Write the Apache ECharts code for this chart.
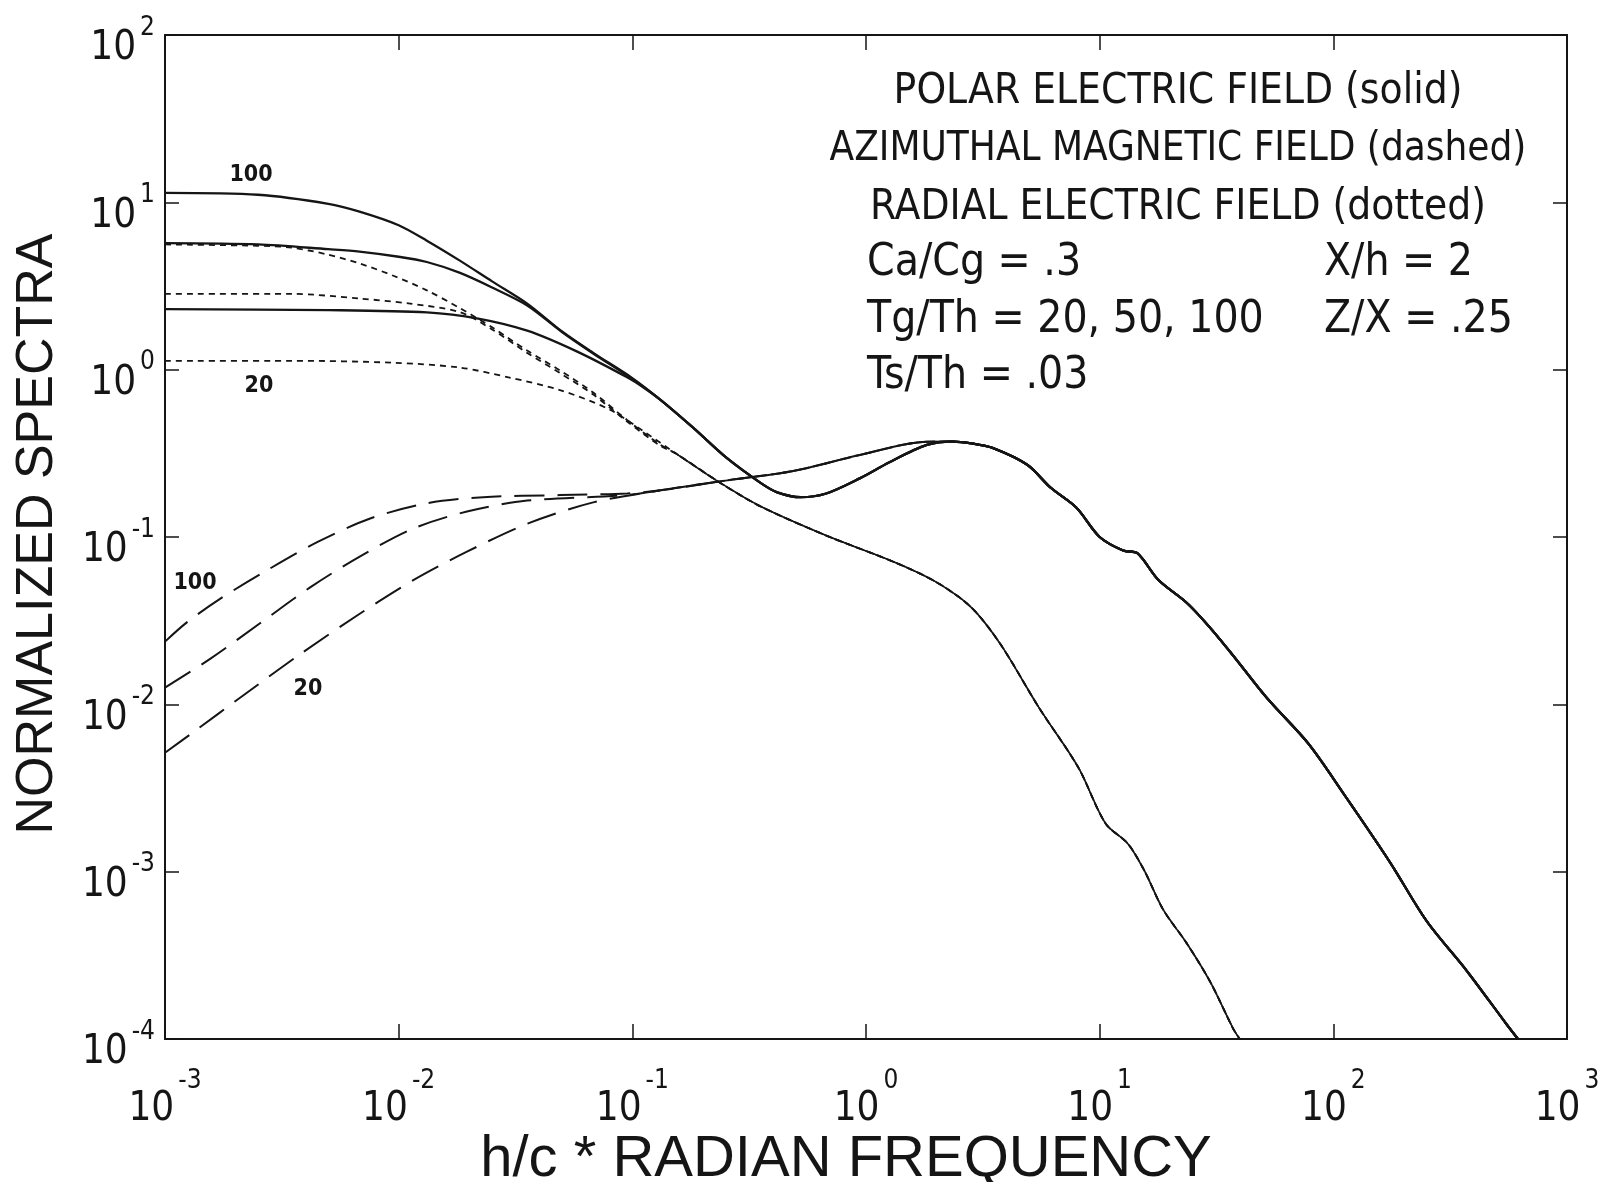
<!DOCTYPE html>
<html>
<head>
<meta charset="utf-8">
<title>Normalized spectra</title>
<script src="https://cdn.jsdelivr.net/npm/echarts@6/dist/echarts.min.js"></script>
<style>
  html, body { margin: 0; padding: 0; background: #fff; }
  #chart { width: 1609px; height: 1182px; }
</style>
</head>
<body>
<div id="chart"></div>
<script>
// [frequency (h/c * rad freq), normalized spectrum]
const solid100Head = [[0.001, 11.4], [0.0025, 11.1], [0.005, 9.8], [0.0068, 8.8], [0.01, 7.3], [0.0132, 5.9], [0.0182, 4.5], [0.0251, 3.37], [0.0355, 2.48], [0.05, 1.69], [0.068, 1.26], [0.1, 0.89]];
const solid50Head = [[0.001, 5.7], [0.0025, 5.6], [0.005, 5.25], [0.0068, 5.08], [0.01, 4.73], [0.0132, 4.4], [0.0182, 3.8], [0.0251, 3.1], [0.0355, 2.42], [0.05, 1.68], [0.068, 1.25], [0.1, 0.88]];
const solid20Head = [[0.001, 2.3], [0.005, 2.27], [0.0132, 2.2], [0.0219, 2.02], [0.0355, 1.71], [0.0575, 1.29], [0.095, 0.9], [0.112, 0.78]];
const solidTail = [[0.132, 0.66], [0.182, 0.45], [0.251, 0.3], [0.355, 0.21], [0.417, 0.185], [0.525, 0.173], [0.676, 0.182], [0.94, 0.224], [1.26, 0.28], [1.82, 0.355], [2.34, 0.372], [2.82, 0.363], [3.5, 0.34], [4.9, 0.27], [6.17, 0.197], [7.94, 0.15], [10, 0.1], [12.6, 0.083], [14.5, 0.08], [17.8, 0.0555], [23.5, 0.0406], [29, 0.0298], [37, 0.0198], [52, 0.0109], [78, 0.00585], [110, 0.00296], [174, 0.00115], [251, 0.000506], [372, 0.000256], [550, 0.000123], [617, 0.0001]];

const dashed100Head = [[0.001, 0.0237], [0.00124, 0.0309], [0.00172, 0.0427], [0.00274, 0.0634], [0.00448, 0.0931], [0.00755, 0.129], [0.0132, 0.159], [0.023, 0.173], [0.049, 0.178], [0.095, 0.182]];
const dashed50Head = [[0.001, 0.0126], [0.00156, 0.0187], [0.00255, 0.0305], [0.00418, 0.05], [0.00684, 0.0766], [0.0115, 0.112], [0.0196, 0.142], [0.0355, 0.165], [0.095, 0.178]];
const dashed20Head = [[0.001, 0.00514], [0.00132, 0.00681], [0.00216, 0.0113], [0.00378, 0.0199], [0.00684, 0.0349], [0.0115, 0.055], [0.0196, 0.0817], [0.0355, 0.12], [0.068, 0.161]];
const dashedTail = [[0.132, 0.19], [0.255, 0.218], [0.488, 0.248], [0.94, 0.309], [1.82, 0.371], [2.34, 0.372]];

const dotted100Head = [[0.001, 5.6], [0.0025, 5.5], [0.00347, 5.36], [0.0049, 4.9], [0.00684, 4.3], [0.00955, 3.63], [0.0132, 2.98], [0.0182, 2.34], [0.0251, 1.79], [0.0355, 1.3], [0.049, 0.99], [0.068, 0.73], [0.095, 0.5], [0.132, 0.355]];
const dotted50Head = [[0.001, 2.84], [0.00347, 2.84], [0.00684, 2.66], [0.0112, 2.48], [0.0182, 2.21], [0.0251, 1.74], [0.0355, 1.26], [0.049, 0.955], [0.068, 0.71], [0.095, 0.49], [0.132, 0.35]];
const dotted20Head = [[0.001, 1.13], [0.00347, 1.13], [0.00955, 1.1], [0.0182, 1.03], [0.0295, 0.9], [0.049, 0.755], [0.0794, 0.58], [0.112, 0.427]];
const dottedTail = [[0.155, 0.313], [0.24, 0.209], [0.355, 0.152], [0.676, 0.102], [1.32, 0.0708], [2.0, 0.0537], [2.82, 0.038], [3.76, 0.0229], [5.5, 0.00955], [8.09, 0.00421], [10.6, 0.00194], [13.2, 0.00147], [15.5, 0.00102], [18.7, 0.000593], [23.5, 0.000376], [29.7, 0.00022], [37.3, 0.000115], [39.8, 0.0001]];

const legendLines = ['POLAR ELECTRIC FIELD (solid)', 'AZIMUTHAL MAGNETIC FIELD (dashed)', 'RADIAL ELECTRIC FIELD (dotted)'];
const paramLeft = ['Ca/Cg = .3', 'Tg/Th = 20, 50, 100', 'Ts/Th = .03'];
const paramRight = ['X/h = 2', 'Z/X = .25'];

const INK = '#151515';
const PLOT_FONT = "'Liberation Sans Narrow', 'DejaVu Sans Condensed', sans-serif";

function curve(data, dash, width) {
  return {
    type: 'line',
    data: data,
    showSymbol: false,
    smooth: 0.3,
    silent: true,
    clip: true,
    lineStyle: { color: INK, width: width || 2, type: dash || 'solid' }
  };
}

const dashedRest = dashedTail.concat(solidTail.filter(p => p[0] > 2.5));
const DASH = [30, 13];
const DOT = [6, 5];

// "10" with the exponent set up as a superscript; baseH controls how high it sits
function powLabel(baseH, extra) {
  return Object.assign({
    formatter: v => '{b|10}{e|' + Math.round(Math.log10(v)) + '}',
    rich: {
      b: { fontSize: 40, lineHeight: baseH, verticalAlign: 'middle', fontFamily: PLOT_FONT, color: INK },
      e: { fontSize: 26, lineHeight: 26, verticalAlign: 'top', padding: [0, 0, 0, 4], fontFamily: PLOT_FONT, color: INK }
    }
  }, extra);
}

function text(x, y, str, size, opts) {
  return {
    type: 'text', x: x, y: y, silent: true,
    style: Object.assign({ text: str, font: size + 'px ' + PLOT_FONT, fill: INK, textVerticalAlign: 'middle' }, opts || {})
  };
}

const chart = echarts.init(document.getElementById('chart'));
chart.setOption({
  backgroundColor: '#fff',
  animation: false,
  grid: { left: 165, right: 42, top: 35, bottom: 143, containLabel: false, outerBoundsMode: 'none' },
  xAxis: [
    {
      type: 'log', logBase: 10, min: 0.001, max: 1000, splitNumber: 6,
      axisLine: { lineStyle: { color: INK, width: 2 } },
      axisTick: { inside: true, length: 15, lineStyle: { color: INK, width: 1.5 } },
      axisLabel: powLabel(84, { margin: 29 }),
      splitLine: { show: false }
    },
    {
      type: 'log', logBase: 10, min: 0.001, max: 1000, splitNumber: 6, position: 'top',
      axisLine: { lineStyle: { color: INK, width: 2 } },
      axisTick: { inside: true, length: 15, lineStyle: { color: INK, width: 1.5 } },
      axisLabel: { show: false },
      splitLine: { show: false }
    }
  ],
  yAxis: [
    {
      type: 'log', logBase: 10, min: 0.0001, max: 100, splitNumber: 6,
      axisLine: { lineStyle: { color: INK, width: 2 } },
      axisTick: { inside: true, length: 14, lineStyle: { color: INK, width: 1.5 } },
      axisLabel: powLabel(68, { margin: 10, padding: [28, 0, 0, 0] }),
      splitLine: { show: false }
    },
    {
      type: 'log', logBase: 10, min: 0.0001, max: 100, splitNumber: 6, position: 'right',
      axisLine: { lineStyle: { color: INK, width: 2 } },
      axisTick: { inside: true, length: 14, lineStyle: { color: INK, width: 1.5 } },
      axisLabel: { show: false },
      splitLine: { show: false }
    }
  ],
  series: [
    curve(solid100Head.concat(solidTail), null, 2.3),
    curve(solid50Head.concat(solidTail), null, 2.3),
    curve(solid20Head.concat(solidTail), null, 2.3),
    curve(dashed100Head.concat(dashedRest), DASH),
    curve(dashed50Head.concat(dashedRest), DASH),
    curve(dashed20Head.concat(dashedRest), DASH),
    curve(dotted100Head.concat(dottedTail), DOT, 1.8),
    curve(dotted50Head.concat(dottedTail), DOT, 1.8),
    curve(dotted20Head.concat(dottedTail), DOT, 1.8),
    // the three dotted curves overlap so densely past the merge that they print as one thin line
    curve(dottedTail, null, 1.6)
  ],
  graphic: [
    text(1178, 92, legendLines[0], 42, { textAlign: 'center' }),
    text(1178, 150, legendLines[1], 40, { textAlign: 'center' }),
    text(1178, 208, legendLines[2], 42, { textAlign: 'center' }),
    text(867, 264, paramLeft[0], 44),
    text(867, 321, paramLeft[1], 44),
    text(867, 377, paramLeft[2], 44),
    text(1324, 264, paramRight[0], 44),
    text(1324, 321, paramRight[1], 44),
    // curve tags
    text(251, 175, '100', 23, { font: 'bold 23px ' + PLOT_FONT, textAlign: 'center' }),
    text(259, 386, '20', 23, { font: 'bold 23px ' + PLOT_FONT, textAlign: 'center' }),
    text(195, 583, '100', 23, { font: 'bold 23px ' + PLOT_FONT, textAlign: 'center' }),
    text(308, 689, '20', 23, { font: 'bold 23px ' + PLOT_FONT, textAlign: 'center' }),
    // axis titles
    { type: 'text', x: 38, y: 534, rotation: Math.PI / 2, silent: true, style: { text: 'NORMALIZED SPECTRA', font: "52px 'Liberation Sans', sans-serif", fill: INK, textAlign: 'center', textVerticalAlign: 'middle' } },
    { type: 'text', x: 846, y: 1160, silent: true, style: { text: 'h/c * RADIAN FREQUENCY', font: "58px 'Liberation Sans', sans-serif", fill: INK, textAlign: 'center', textVerticalAlign: 'middle' } }
  ]
});
</script>
</body>
</html>
